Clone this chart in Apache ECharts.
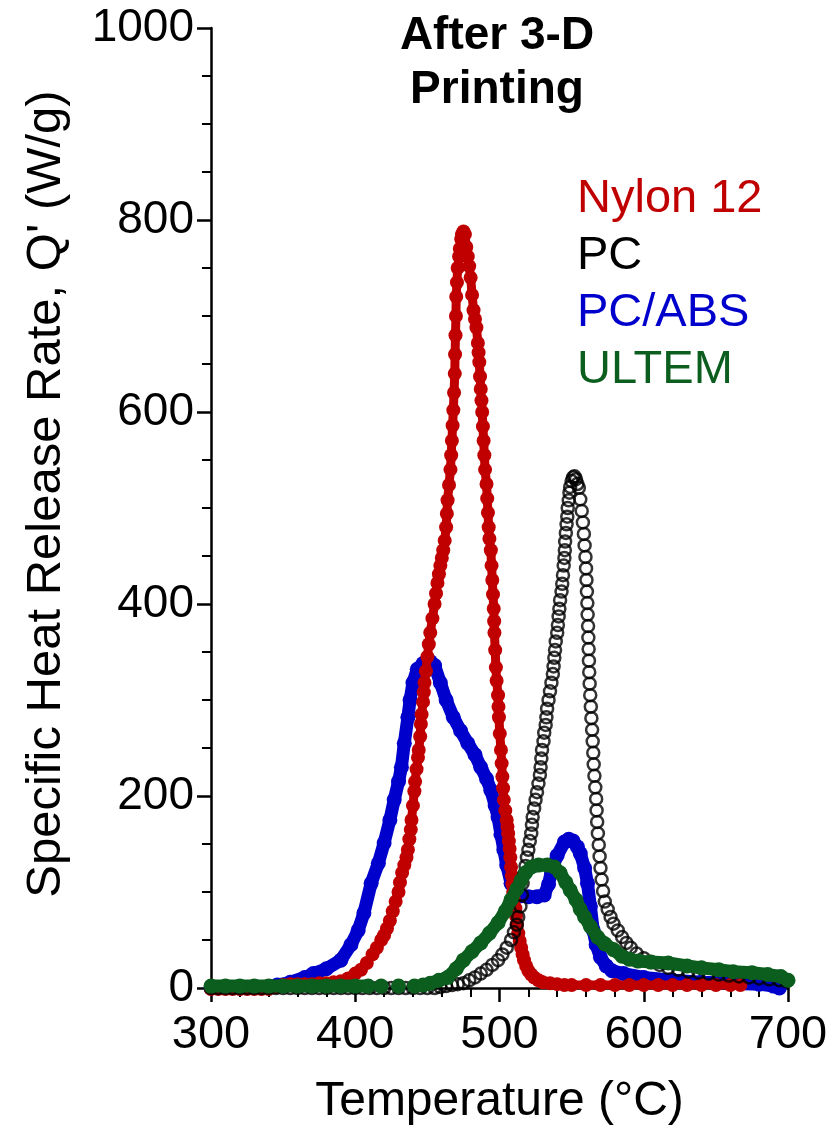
<!DOCTYPE html>
<html>
<head>
<meta charset="utf-8">
<script src="https://cdn.jsdelivr.net/npm/echarts@6/dist/echarts.min.js"></script>
<style>
  html, body { margin: 0; padding: 0; background: #fff; }
  #chart { width: 838px; height: 1129px; }
</style>
</head>
<body>
<div id="chart"></div>
<script>
// [temperature (°C), Q' (W/g)]
const nylon12 = [
  [300,-1],[305,-1],[310,-1],[315,-1],[320,-1],[325,-1],[330,-1],[335,-1],[340,-1],[345,1],
  [350,3],[355,4],[360,4],[365,4],[370,4],[375,5],[380,5],[385,6],[390,7],[395,10],
  [400,15],[404,19],[408,26],[412,35],[415,42],[418,50],[420,55],[422,62],[424,70],[426,80],
  [428,90],[430,100],[431,110],[432.5,120],[434,128],[435.5,136],[436.5,144],[437.5,155],
  [438.5,165],[439,175],[440,190],[441,205],[441.5,215],[442.5,228],[443.5,240],[444,248],
  [445,262],[445.5,275],[446,285],[447,298],[447.5,308],[448,318],[449,330],[450,345],
  [451,358],[452,370],[453.5,385],[455,400],[456,411],[457,422],[458,431],[459,440],[460,448],
  [461,456],[462,466],[463,480],[463.5,494],[464,508],[465,524],[466,540],[466.5,555],[467,570],
  [467.5,586],[468,602],[468.5,620],[469,640],[469.2,660],[469.5,680],[469.8,700],[470,720],
  [470.5,735],[471,750],[472,762],[472.5,770],[473.5,780],[474,785],[475,788],[476,785],
  [477,772],[478,762],[479,752],[480,740],[481,722],[482,706],[483,697],[484,688],[485,672],
  [485.5,662],[486,652],[486.5,637],[487,624],[487.5,612],[488,600],[488.5,585],[489,570],
  [489.5,555],[490,540],[491,525],[491.5,510],[492,495],[492.5,480],[493,468],[494,456],
  [494.5,440],[495,425],[495.5,410],[496,395],[496.3,382],[496.5,370],[497,352],[497.5,334],
  [498,320],[499,305],[499.3,293],[499.6,282],[500.2,265],[501,248],[501.5,234],[502,220],
  [502.5,208],[503,196],[504,185],[505,175],[505.5,168],[506,161],[506.5,153],[507,145],
  [507.5,136],[508,126],[508.5,117],[509,108],[509.5,100],[510,92],[511,83],[511.5,75],
  [512,66],[513,57],[514,49],[515,42],[516,35],[517,29],[518.5,23],[520,18],[522,14],[524,11],
  [527,8],[530,6],[535,5],[540,4],[545,3],[550,3],[560,3],[570,3],[580,3],[590,3],[600,3],
  [610,3],[620,3],[630,3],[640,3],[650,3],[660,3],[667,3]
];

const pc = [
  [300,0],[305,0],[310,0],[315,0],[320,0],[325,0],[330,0],[335,0],[340,0],[345,0],[350,0],
  [355,0],[360,0],[365,0],[370,0],[375,0],[380,0],[385,0],[390,0],[395,0],[400,0],[405,0],
  [410,0],[415,0],[420,0],[425,0],[430,0],[435,0],[440,0],[445,0],[450,0],[455,0],
  [459,1],[463,2],[467,3],[471,4],[475,5],[479,8],[483,11],[487,15],[491,19],[495,24],[499,29],
  [502,35],[505,42],[508,50],[510,58],[512,66],[513,74],[514.5,85],[515.5,97],[516,109],[517,118],
  [518,127],[519,136],[520,144],[521,153],[522,161],[522.5,170],[523,178],[524,187],[525,196],
  [526,204],[527,213],[528,222],[528.5,230],[529,239],[529.5,248],[530.5,257],[531,266],[532,274],
  [532.5,282],[533,291],[534,300],[535,309],[536,318],[537,327],[537.5,335],[538,344],[538.5,352],
  [539,361],[540,370],[540.5,378],[541,387],[541.5,395],[542,404],[543,413],[543.5,421],[544,430],
  [544.5,440],[545,448],[545.3,456],[545.5,465],[546,474],[546.5,483],[547,491],[547.3,500],
  [548,508],[548.5,516],[549,522],[550,528],[551,532],[552,533],[553,530],[554,525],
  [555,521],[556,509],[557,497],[557.8,485],[558.5,473],[559,461],[559.6,449],[560,437],
  [560.3,425],[560.6,413],[560.9,401],[561.1,389],[561.4,377],[561.6,365],[561.8,353],[562,341],
  [562.2,329],[562.5,317],[562.9,305],[563.3,293],[563.7,281],[564.2,269],[564.6,257],[565,245],
  [565.3,233],[565.8,221],[566.4,209],[567,197],[567.3,185],[567.7,173],[568.2,161],[568.8,149],
  [569.4,137],[570,125],[570.8,113],[571.8,101],[573,90],[575,82],[577,74],[579,67],[582,60],
  [585,53],[588,47],[591,42],[595,36],[600,31],[605,27],[611,24],[617,21],[624,19],[631,17],
  [638,16],[645,15],[652,14],[659,13],[666,12],[673,11],[680,10],[687,9],[694,8],[699,7]
];

const pcAbs = [
  [300,0],[320,0],[340,1],[346,3],[355,6],[365,11],[371,15],[380,20],[390,29],[397,45],
  [402,60],[406,78],[411,109],[416,130],[420,151],[424,175],[427,196],[430,215],[432,230],
  [434,255],[436.5,282],[438,300],[440,318],[443,332],[447,338],[452,340],[455,336],[459,318],
  [463,300],[468,282],[473,268],[478,255],[483,243],[487,230],[491,218],[494,206],[497,190],
  [499,178],[501,160],[503,144],[505,128],[508,109],[511,100],[515,96],[520,95],[526,95],
  [531,97],[534,108],[536,122],[540,138],[545,152],[548,155],[551,153],[554,147],[556,140],
  [559,125],[561,109],[563,85],[565,60],[567,45],[570,32],[574,23],[578,18],[586,15],[600,11],
  [620,8],[640,6],[660,5],[680,4],[690,2],[694,0]
];

const ultem = [
  [300,2],[310,2],[320,2],[330,2],[340,2],[350,2],[360,2],[370,2],[380,2],[390,2],[400,2],
  [409,2],[413,'-'],[418,2],[425,'-'],[430,2],[436,'-'],[441,2],[444,'-'],
  [447,3],[452,5],[458,8],[464,11],[470,20],[475,29],[481,38],[487,47],[493,57],[499,68],
  [504,80],[508,92],[512,103],[515,112],[518,120],[522,126],[527,128],[533,128],[538,126],
  [542,120],[546,110],[549,102],[553,92],[556,82],[559,74],[563,64],[568,53],[573,46],[579,40],
  [585,33],[590,30],[596,28],[605,27],[617,26],[630,23],[640,21],[652,19],[662,17],[675,16],
  [686,14],[695,12],[700,8]
];

const seriesNames = ['Nylon 12', 'PC', 'PC/ABS', 'ULTEM'];
const seriesColors = ['#c00000', '#000000', '#0000cc', '#0b5e1e'];

const FONT = "'Liberation Sans', Arial, Helvetica, sans-serif";

const chart = echarts.init(document.getElementById('chart'));

// filled-marker series: dots joined by a thick line so dense runs look solid
const dotLine = (name, data, color, size, width, z) => ({
  name: name,
  type: 'line',
  data: data,
  symbol: 'circle',
  symbolSize: size,
  showAllSymbol: true,
  clip: false,
  connectNulls: false,
  itemStyle: { color: color },
  lineStyle: { color: color, width: width, cap: 'round', join: 'round' },
  z: z,
  silent: true
});

const option = {
  animation: false,
  backgroundColor: '#fff',
  title: {
    text: 'After 3-D\nPrinting',
    left: 497,
    top: 9,
    textAlign: 'center',
    padding: 0,
    textStyle: { fontSize: 46, fontWeight: 'bold', lineHeight: 54, color: '#000', fontFamily: FONT }
  },
  legend: {
    orient: 'vertical',
    left: 567,
    top: 171,
    icon: 'none',
    itemWidth: 0,
    itemHeight: 10,
    itemGap: 10,
    selectedMode: false,
    textStyle: { fontSize: 47, fontFamily: FONT },
    data: seriesNames.map((n, i) => ({ name: n, textStyle: { color: seriesColors[i] } }))
  },
  grid: { left: 211, right: 50, top: 28, bottom: 141, outerBoundsMode: 'none' },
  xAxis: {
    type: 'value',
    min: 300,
    max: 700,
    interval: 100,
    name: 'Temperature (°C)',
    nameLocation: 'middle',
    nameGap: 90,
    nameTextStyle: { fontSize: 48, color: '#000', fontFamily: FONT },
    axisLine: { show: true, onZero: false, lineStyle: { color: '#000', width: 2.5 } },
    axisTick: { show: true, length: 14, lineStyle: { color: '#000', width: 2.5 } },
    minorTick: { show: true, splitNumber: 5, length: 9, lineStyle: { color: '#000', width: 2 } },
    splitLine: { show: false },
    axisLabel: { fontSize: 47, color: '#000', margin: 24, fontFamily: FONT }
  },
  yAxis: {
    type: 'value',
    min: 0,
    max: 1000,
    interval: 200,
    axisLine: { show: true, onZero: false, lineStyle: { color: '#000', width: 2.5 } },
    axisTick: { show: true, length: 14, lineStyle: { color: '#000', width: 2.5 } },
    minorTick: { show: true, splitNumber: 4, length: 9, lineStyle: { color: '#000', width: 2 } },
    splitLine: { show: false },
    axisLabel: { fontSize: 46, color: '#000', margin: 17, fontFamily: FONT, formatter: v => String(v) }
  },
  graphic: [{
    type: 'text',
    x: 46,
    y: 494,
    rotation: Math.PI / 2,
    style: {
      text: "Specific Heat Release Rate, Q' (W/g)",
      fontSize: 49,
      fontFamily: FONT,
      fill: '#000',
      align: 'center',
      verticalAlign: 'middle'
    }
  }],
  series: [
    dotLine('PC/ABS', pcAbs, seriesColors[2], 15, 13, 2),
    dotLine('Nylon 12', nylon12, seriesColors[0], 14, 9, 3),
    {
      name: 'PC',
      type: 'scatter',
      data: pc,
      symbol: 'circle',
      symbolSize: 12,
      clip: false,
      itemStyle: { color: 'rgba(0,0,0,0)', borderColor: '#000', borderWidth: 2.5 },
      z: 4,
      silent: true
    },
    dotLine('ULTEM', ultem, seriesColors[3], 15, 13, 5)
  ]
};

chart.setOption(option);
</script>
</body>
</html>
